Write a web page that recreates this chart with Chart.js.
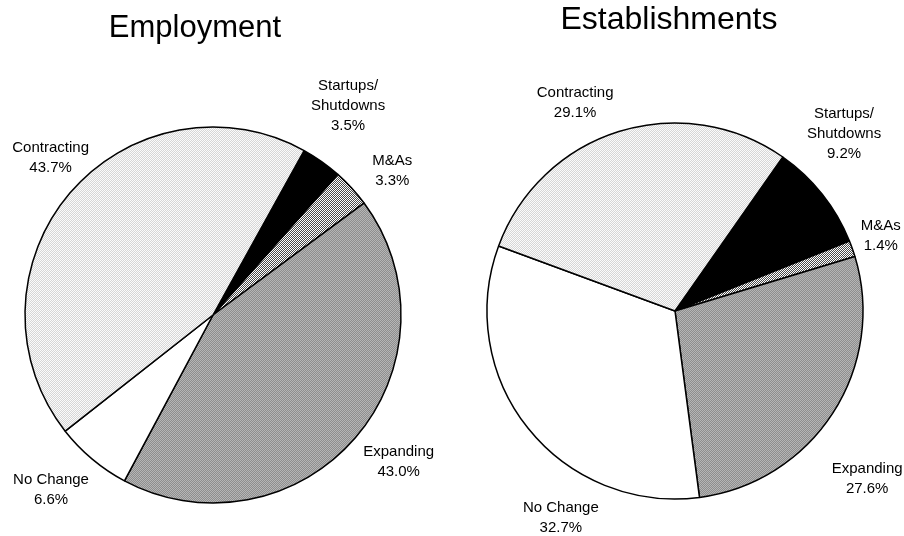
<!DOCTYPE html>
<html>
<head>
<meta charset="utf-8">
<script src="https://cdn.jsdelivr.net/npm/chart.js@4/dist/chart.umd.min.js"></script>
<style>
  html, body { margin: 0; padding: 0; background: #ffffff; }
  #wrap { position: relative; width: 904px; height: 536px; }
  .layer { position: absolute; left: 0; top: 0; width: 904px; height: 536px; }
</style>
</head>
<body>
<div id="wrap">
  <div class="layer"><canvas id="emp" width="904" height="536"></canvas></div>
  <div class="layer"><canvas id="est" width="904" height="536"></canvas></div>
</div>
<script>
// ---- Data ----
const categories = ["Startups/\nShutdowns", "M&As", "Expanding", "No Change", "Contracting"];
const employmentValues = [3.5, 3.3, 43.0, 6.6, 43.7];
const establishmentValues = [9.2, 1.4, 27.6, 32.7, 29.1];
const chartTitles = ["Employment", "Establishments"];

// ---- Fill patterns ----
function checker(a, b) {
  const c = document.createElement('canvas');
  c.width = 2; c.height = 2;
  const g = c.getContext('2d');
  g.fillStyle = a; g.fillRect(0, 0, 2, 2);
  g.fillStyle = b; g.fillRect(1, 0, 1, 1); g.fillRect(0, 1, 1, 1);
  return g.createPattern(c, 'repeat');
}
const ctxTmp = document.createElement('canvas').getContext('2d');
const fills = [
  '#000000',                         // Startups/Shutdowns
  checker('#ffffff', '#4a4a4a'),     // M&As
  checker('#b6b6b6', '#8e8e8e'),     // Expanding
  '#ffffff',                         // No Change
  checker('#fbfbfb', '#d6d6d6')      // Contracting
];

// ---- Label plugin (text placed outside each arc by its mid-angle) ----
const labelPlugin = {
  id: 'outLabels',
  afterDatasetsDraw(chart, args, opts) {
    const ctx = chart.ctx;
    const meta = chart.getDatasetMeta(0);
    const vals = chart.data.datasets[0].data;
    ctx.save();
    ctx.font = '15px "Liberation Sans", Arial, sans-serif';
    ctx.fillStyle = '#000';
    ctx.textAlign = 'center';
    ctx.textBaseline = 'middle';
    const lh = 20;
    meta.data.forEach((arc, i) => {
      const lines = chart.data.labels[i].split('\n').concat([vals[i].toFixed(1) + '%']);
      const w = Math.max(...lines.map(t => ctx.measureText(t).width));
      const h = lines.length * lh;
      const mid = (arc.startAngle + arc.endAngle) / 2;
      const ux = Math.cos(mid), uy = Math.sin(mid);
      const d = arc.outerRadius + 12 + Math.abs(uy) * h / 2 + Math.abs(ux) * w / 2;
      const nd = opts.nudge[i] || [0, 0];
      const cx = arc.x + ux * d + nd[0];
      const cy = arc.y + uy * d + nd[1];
      lines.forEach((t, k) => {
        ctx.fillText(t, cx, cy - (lines.length - 1) * lh / 2 + k * lh);
      });
    });
    // title
    ctx.font = opts.titleFont;
    ctx.fillText(opts.title, opts.titleX, opts.titleY);
    ctx.restore();
  }
};

function makePie(id, values, rotation, pad, title, titleFont, titleX, titleY, nudge) {
  return new Chart(document.getElementById(id), {
    type: 'pie',
    data: {
      labels: categories,
      datasets: [{
        data: values,
        backgroundColor: fills,
        borderColor: '#000000',
        borderWidth: 1.5,
        radius: 188
      }]
    },
    options: {
      responsive: false,
      animation: false,
      rotation: rotation,
      layout: { padding: pad },
      plugins: {
        legend: { display: false },
        tooltip: { enabled: false },
        title: { display: false },
        outLabels: { title, titleFont, titleX, titleY, nudge }
      }
    },
    plugins: [labelPlugin]
  });
}

makePie('emp', employmentValues, 29,
  { left: 0, right: 478, top: 94, bottom: 0 },
  chartTitles[0], '31px "Liberation Sans", Arial, sans-serif', 195, 28,
  [[-7, -8], [11, 10], [4, -10], [-8, -9], [22, 0]]);

makePie('est', establishmentValues, 35,
  { left: 446, right: 0, top: 86, bottom: 0 },
  chartTitles[1], '32px "Liberation Sans", Arial, sans-serif', 669, 20,
  [[-25, -23], [-7, 0], [-10, 37], [75, 56], [-31, 12]]);
</script>
</body>
</html>
